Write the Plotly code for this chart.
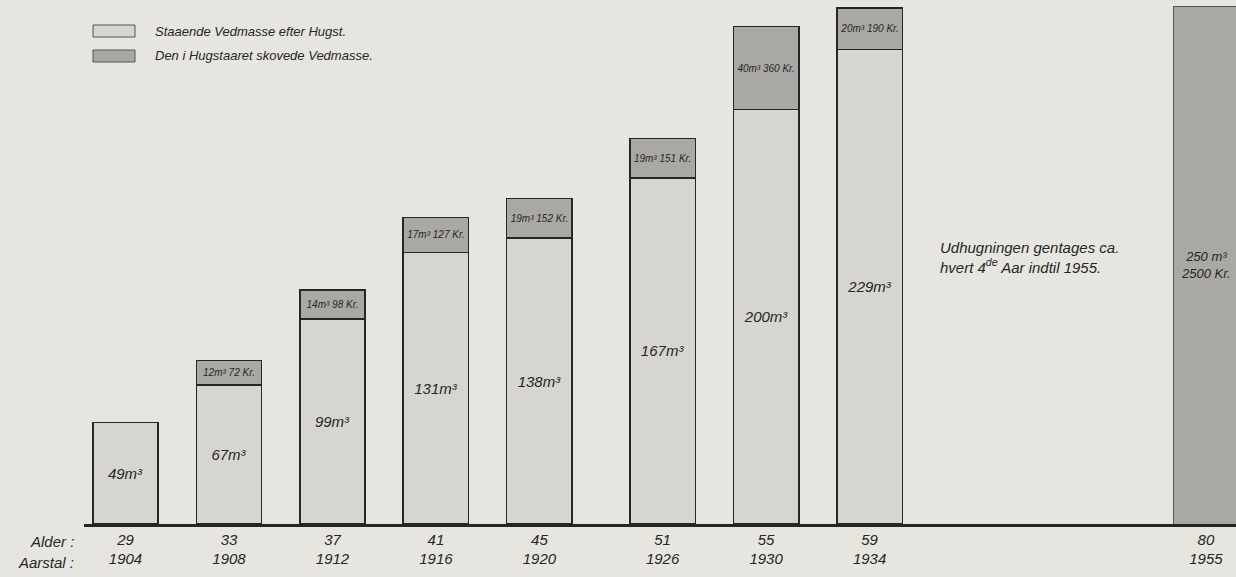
import plotly.graph_objects as go

# thinning record
years = ["1904", "1908", "1912", "1916", "1920", "1926", "1930", "1934"]
ages = [29, 33, 37, 41, 45, 51, 55, 59]
standing_m3 = [49, 67, 99, 131, 138, 167, 200, 229]
thinned_m3 = [None, 12, 14, 17, 19, 19, 40, 20]
thinned_kr = [None, 72, 98, 127, 152, 151, 360, 190]

final_year = "1955"
final_age = 80
final_m3 = 250
final_kr = 2500

legend_labels = ["Staaende Vedmasse efter Hugst.", "Den i Hugstaaret skovede Vedmasse."]
note = "Udhugningen gentages ca.<br>hvert 4<sup>de</sup> Aar indtil 1955."

PAPER = "#e7e5e0"
LIGHT = "#d7d5d0"
DARK = "#aaa8a4"
INK = "#262626"
FONT = "Liberation Sans, Arial"
BAR_W = 924 * 86400000  # ~2.5 years, in ms on the date axis

fig = go.Figure()
fig.add_trace(
    go.Bar(
        x=years,
        y=standing_m3,
        width=BAR_W,
        marker=dict(color=LIGHT, line=dict(color=INK, width=1.5)),
        text=[f"{v}m³" for v in standing_m3],
        textposition="inside",
        insidetextanchor="middle",
        textangle=0,
        textfont=dict(size=15, color=INK, family=FONT, style="italic"),
        name=legend_labels[0],
    )
)
fig.add_trace(
    go.Bar(
        x=years,
        y=thinned_m3,
        width=BAR_W,
        marker=dict(color=DARK, line=dict(color=INK, width=1.5)),
        text=["" if v is None else f"{v}m³ {k} Kr." for v, k in zip(thinned_m3, thinned_kr)],
        textposition="inside",
        insidetextanchor="middle",
        textangle=0,
        textfont=dict(size=10, color=INK, family=FONT, style="italic"),
        name=legend_labels[1],
    )
)
fig.add_trace(
    go.Bar(
        x=[final_year],
        y=[final_m3],
        width=BAR_W,
        marker=dict(color=DARK, line=dict(color="#555555", width=1)),
        text=[f"{final_m3} m³<br>{final_kr} Kr."],
        textposition="inside",
        insidetextanchor="middle",
        textangle=0,
        textfont=dict(size=13, color=INK, family=FONT, style="italic"),
        showlegend=False,
    )
)

# hand drawn style legend: wide boxes
for i, (label, color) in enumerate(zip(legend_labels, [LIGHT, DARK])):
    y0 = 25 + i * 25
    fig.add_shape(
        type="rect", xref="paper", yref="paper",
        x0=(93 - 84) / 1152, x1=(135 - 84) / 1152,
        y0=1 - (y0 + 12) / 524, y1=1 - y0 / 524,
        fillcolor=color, line=dict(color="#555555", width=1),
    )
    fig.add_annotation(
        xref="paper", yref="paper", x=(153 - 84) / 1152, y=1 - (y0 + 6) / 524,
        text=label, showarrow=False, xanchor="left", yanchor="middle",
        font=dict(size=13, color=INK, family=FONT, style="italic"),
    )

fig.add_annotation(
    xref="paper", yref="paper", x=(938 - 84) / 1152, y=1 - 257 / 524,
    text=note, showarrow=False, xanchor="left", yanchor="middle", align="left",
    font=dict(size=15, color=INK, family=FONT, style="italic"),
)
for label, ypix in [("Alder :", 541), ("Aarstal :", 562)]:
    fig.add_annotation(
        xref="paper", yref="paper", x=-8 / 1152, y=1 - ypix / 524,
        text=label, showarrow=False, xanchor="right", yanchor="middle",
        font=dict(size=15, color=INK, family=FONT, style="italic"),
    )

fig.update_xaxes(
    type="date",
    range=["1902-05-25", "1956-03-01"],
    rangebreaks=[dict(bounds=["1921-07-01", "1922-09-27"]), dict(bounds=["1940-01-01", "1948-01-01"])],
    tickvals=years + [final_year],
    ticktext=[f"{a}<br>{y}" for a, y in zip(ages + [final_age], years + [final_year])],
    tickfont=dict(size=15, color=INK, family=FONT, style="italic"),
    ticks="",
    showgrid=False,
    showline=True,
    linecolor=INK,
    linewidth=2.5,
    zeroline=False,
)
fig.update_yaxes(range=[0, 524 / 2.072], visible=False, showgrid=False)
fig.update_layout(
    barmode="stack",
    width=1236,
    height=577,
    margin=dict(l=84, r=0, t=0, b=53),
    plot_bgcolor=PAPER,
    paper_bgcolor=PAPER,
    showlegend=False,
    font=dict(family=FONT, color=INK),
)
fig.write_html(
    "out.html",
    config={"displayModeBar": False},
    post_script="document.body.style.margin='0'; document.body.style.overflow='hidden';",
)
